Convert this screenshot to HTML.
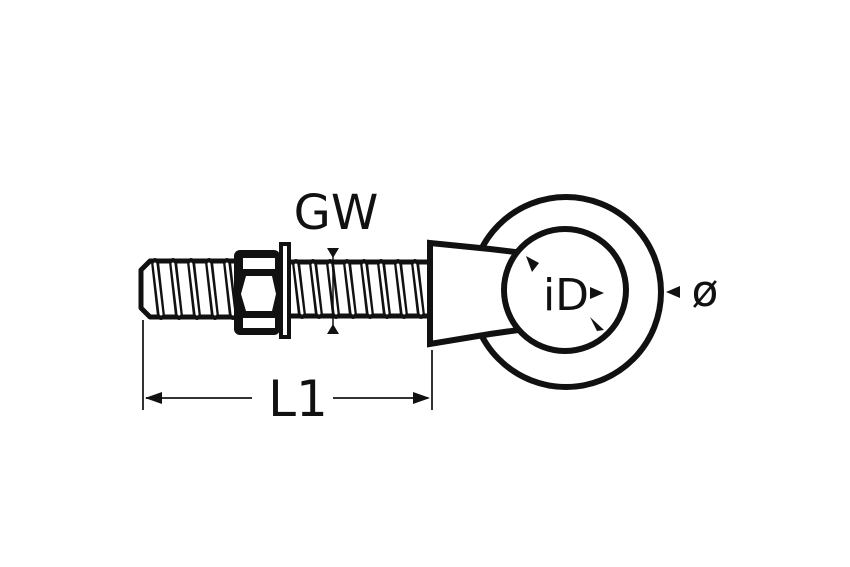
<!DOCTYPE html>
<html><head><style>
html,body{margin:0;padding:0;background:#fff;width:850px;height:567px;overflow:hidden}
svg{display:block}
text{font-family:"DejaVu Sans","Liberation Sans",sans-serif;fill:#111}
</style></head><body>
<svg width="850" height="567" viewBox="0 0 850 567">
<rect width="850" height="567" fill="#fff"/>
<g stroke="#111" fill="none" stroke-linejoin="round">
<path d="M235,261 L150,261 L141,270 L141,308 L150,317 L235,317" stroke-width="5" fill="#fff"/>
<rect x="288" y="262" width="142" height="54" stroke-width="5" fill="#fff"/>
</g>
<g stroke-linecap="round">
<g stroke="#111" stroke-width="8">
<path d="M155,262 L161,316"/><path d="M173,262 L179,316"/><path d="M191,262 L197,316"/><path d="M209,262 L215,316"/><path d="M227,262 L233,316"/>
<path d="M296,263 L302,315"/><path d="M313,263 L319,315"/><path d="M330,263 L336,315"/><path d="M347,263 L353,315"/><path d="M364,263 L370,315"/><path d="M381,263 L387,315"/><path d="M398,263 L404,315"/><path d="M415,263 L421,315"/>
</g>
<g stroke="#fff" stroke-width="3">
<path d="M155,264 L161,314"/><path d="M173,264 L179,314"/><path d="M191,264 L197,314"/><path d="M209,264 L215,314"/><path d="M227,264 L233,314"/>
<path d="M296,265 L302,313"/><path d="M313,265 L319,313"/><path d="M330,265 L336,313"/><path d="M347,265 L353,313"/><path d="M364,265 L370,313"/><path d="M381,265 L387,313"/><path d="M398,265 L404,313"/><path d="M415,265 L421,313"/>
</g>
</g>
<rect x="234" y="250" width="46" height="85" rx="6" fill="#111"/>
<rect x="243" y="258" width="32" height="11" fill="#fff"/>
<path d="M246,276 L272,276 L276,294 L272,311 L246,311 L241,294 Z" fill="#fff"/>
<rect x="243" y="318" width="32" height="10" fill="#fff"/>
<rect x="281" y="244" width="8" height="93" fill="#fff" stroke="#111" stroke-width="4"/>
<circle cx="566" cy="292" r="95" fill="#fff" stroke="#111" stroke-width="6"/>
<path d="M430,243 L490,249 L540,255 L540,327 L490,334 L430,344 Z" fill="#fff" stroke="#111" stroke-width="6"/>
<circle cx="565" cy="290" r="61" fill="#fff" stroke="#111" stroke-width="6"/>
<path d="M327,248 L339,248 L333,258 Z" fill="#111"/>
<path d="M327,334 L339,334 L333,324 Z" fill="#111"/>
<line x1="333" y1="256" x2="333" y2="326" stroke="#111" stroke-width="1.5"/>
<path d="M526,256 L532,272 L539,263 Z" fill="#111"/>
<path d="M604,293 L590,287 L590,299 Z" fill="#111"/>
<path d="M604,330 L590,317 L597,331 Z" fill="#111"/>
<path d="M666,292 L680,286 L680,298 Z" fill="#111"/>
<g stroke="#333" stroke-width="2">
<line x1="143" y1="320" x2="143" y2="410"/>
<line x1="432" y1="350" x2="432" y2="410"/>
<line x1="146" y1="398" x2="252" y2="398"/>
<line x1="333" y1="398" x2="428" y2="398"/>
</g>
<path d="M145,398 L162,392 L162,404 Z" fill="#111"/>
<path d="M430,398 L413,392 L413,404 Z" fill="#111"/>
<text x="298" y="416" font-size="50" text-anchor="middle">L1</text>
<text x="336" y="229" font-size="48" text-anchor="middle">GW</text>
<text x="566" y="310" font-size="44" text-anchor="middle">iD</text>
<text x="705" y="306" font-size="44" text-anchor="middle">ø</text>
</svg>
</body></html>
